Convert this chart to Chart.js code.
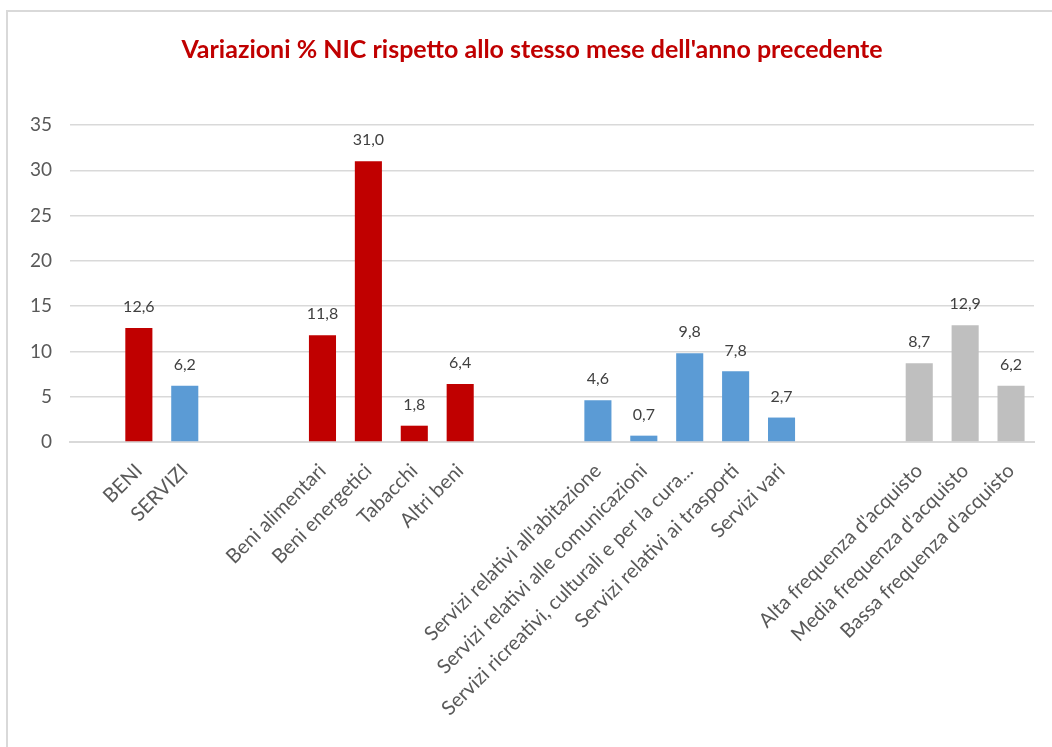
<!DOCTYPE html>
<html>
<head>
<meta charset="utf-8">
<script src="https://cdn.jsdelivr.net/npm/chart.js@4.4.0/dist/chart.umd.min.js"></script>
<style>
  html, body { margin: 0; padding: 0; background: #fff; }
  #wrap { position: relative; width: 1052px; height: 747px; overflow: hidden; }
  #frame { position: absolute; left: 6px; top: 10px; width: 1100px; height: 800px; border-left: 2px solid #d9d9d9; border-top: 2px solid #d9d9d9; }
  canvas { position: absolute; left: 0; top: 0; }
</style>
</head>
<body>
<div id="wrap">
  <div id="frame"></div>
  <canvas id="chart" width="1052" height="747"></canvas>
</div>
<script>
const titleText = "Variazioni % NIC rispetto allo stesso mese dell'anno precedente"
// empty strings are the gaps between the groups
const categories = ['', 'BENI', 'SERVIZI', '', '',
    'Beni alimentari', 'Beni energetici', 'Tabacchi', 'Altri beni', '', '',
    "Servizi relativi all'abitazione", 'Servizi relativi alle comunicazioni',
    'Servizi ricreativi, culturali e per la cura...', 'Servizi relativi ai trasporti', 'Servizi vari', '', '',
    "Alta frequenza d'acquisto", "Media frequenza d'acquisto", "Bassa frequenza d'acquisto"]
const values = [null, 12.6, 6.2, null, null,
    11.8, 31.0, 1.8, 6.4, null, null,
    4.6, 0.7, 9.8, 7.8, 2.7, null, null,
    8.7, 12.9, 6.2]
const groups = ['', 'beni', 'servizi', '', '',
    'beni', 'beni', 'beni', 'beni', '', '',
    'servizi', 'servizi', 'servizi', 'servizi', 'servizi', '', '',
    'freq', 'freq', 'freq']
const yTicks = [0, 5, 10, 15, 20, 25, 30, 35]

const groupColors = {beni: '#C00000', servizi: '#5B9BD5', freq: '#BFBFBF', '': '#ffffff'}
const fmt = v => v.toFixed(1).replace('.', ',')

const valueLabels = {
    id: 'valueLabels',
    afterDatasetsDraw(chart) {
        const ctx = chart.ctx
        const meta = chart.getDatasetMeta(0)
        ctx.save()
        ctx.font = '16px Lato'
        ctx.fillStyle = '#404040'
        ctx.textAlign = 'center'
        ctx.textBaseline = 'middle'
        meta.data.forEach((bar, i) => {
            if (values[i] == null) return
            ctx.fillText(fmt(values[i]), bar.x, bar.y - 21)
        })
        ctx.restore()
    }
}

const ctx = document.getElementById('chart').getContext('2d')
new Chart(ctx, {
    type: 'bar',
    data: {
        labels: categories,
        datasets: [{
            data: values,
            backgroundColor: groups.map(g => groupColors[g]),
            barPercentage: 0.59,
            categoryPercentage: 1.0
        }]
    },
    options: {
        responsive: false,
        animation: false,
        layout: {padding: {left: 30, right: 18, top: 0, bottom: 0}},
        plugins: {
            legend: {display: false},
            tooltip: {enabled: false},
            title: {
                display: true,
                text: titleText,
                color: '#C00000',
                font: {family: 'Lato', size: 25, weight: 'bold'},
                padding: {top: 35, bottom: 60}
            }
        },
        scales: {
            x: {
                grid: {display: false, drawTicks: false},
                border: {display: true, color: '#d9d9d9', width: 2},
                ticks: {
                    autoSkip: false,
                    maxRotation: 45,
                    minRotation: 45,
                    padding: 17,
                    color: '#595959',
                    font: {family: 'Lato', size: 20}
                },
                afterFit: scale => { scale.height = 305 }
            },
            y: {
                min: 0,
                max: 35,
                afterBuildTicks: scale => { scale.ticks = yTicks.map(v => ({value: v})) },
                grid: {color: '#d9d9d9', lineWidth: 1.5, drawTicks: false},
                border: {display: false},
                ticks: {
                    padding: 18,
                    color: '#595959',
                    font: {family: 'Lato', size: 19}
                },
                afterFit: scale => { scale.width = 40 }
            }
        }
    },
    plugins: [valueLabels]
})
</script>
</body>
</html>
